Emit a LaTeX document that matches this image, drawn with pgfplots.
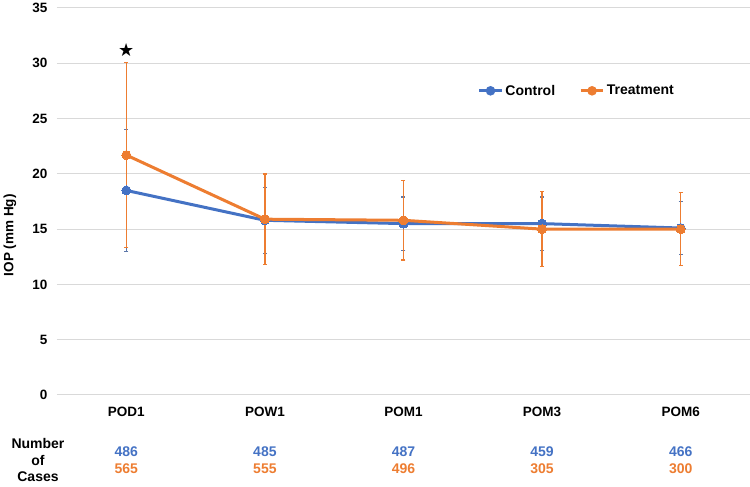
\documentclass[border=0pt]{standalone}
\usepackage{pgfplots}
\pgfplotsset{compat=1.18}
\usepackage{pgfplotstable}
\usepackage{fontspec}
\setmainfont{Liberation Sans}
\newfontfamily\symfont{DejaVu Sans}
\definecolor{cblue}{HTML}{4472C4}
\definecolor{corange}{HTML}{ED7D31}
\definecolor{gridc}{HTML}{D9D9D9}
\pgfplotstableread{
x y e
0 18.5 5.5
1 15.8 3.0
2 15.5 2.4
3 15.5 2.4
4 15.1 2.4
}\control
\pgfplotstableread{
x y e
0 21.7 8.35
1 15.9 4.1
2 15.8 3.6
3 15.0 3.4
4 15.0 3.3
}\treat
\begin{document}
\begin{tikzpicture}
\path[use as bounding box] (-57pt,-92pt) rectangle (693pt,395pt);
\begin{axis}[
  at={(0pt,0pt)}, anchor=south west,
  scale only axis, width=693pt, height=387pt,
  xmin=-0.5, xmax=4.5, ymin=0, ymax=35,
  ytick={0,5,...,35},
  xtick={0,1,2,3,4},
  xticklabels={POD1,POW1,POM1,POM3,POM6},
  axis line style={draw=none},
  major tick length=0pt,
  ymajorgrids, grid style={gridc, line width=1pt},
  /pgf/number format/assume math mode=true,
  tick label style={font=\fontsize{13.5}{16}\selectfont\bfseries},
  yticklabel style={xshift=-6pt},
  xticklabel style={yshift=-9pt},
  ylabel={IOP (mm Hg)},
  every axis y label/.style={at={(axis description cs:-0.068,0.413)}, rotate=90, anchor=center,
    font=\fontsize{13.5}{16}\selectfont\bfseries},
  clip=false,
  legend style={draw=none, fill=none, at={(axis description cs:0.75,0.786)}, anchor=center,
    font=\fontsize{14}{16}\selectfont\bfseries, legend columns=2,
    /tikz/every even column/.append style={column sep=22pt}},
  legend image code/.code={
    \draw[#1, mark=none] (0cm,0cm) -- (0.8cm,0cm);
    \fill[#1] (0.4cm,0cm) circle (3.2pt);
  },
]
% error bars first
\addplot[draw=none, mark=none, forget plot,
  error bars/.cd, y dir=both, y explicit,
  error bar style={cblue!60!gray, line width=1.2pt}, error mark options={rotate=90, mark size=2pt, line width=1.2pt, cblue!60!gray}]
  table[x=x, y=y, y error=e] {\control};
\addplot[draw=none, mark=none, forget plot,
  error bars/.cd, y dir=both, y explicit,
  error bar style={corange, line width=1.5pt}, error mark options={rotate=90, mark size=2pt, line width=1.5pt, corange}]
  table[x=x, y=y, y error=e] {\treat};
\addplot[cblue, line width=3pt, mark=*, mark size=4.5pt, mark options={solid, line width=0pt}]
  table[x=x, y=y] {\control};
\addlegendentry{Control}
\addplot[corange, line width=3pt, mark=*, mark size=4.5pt, mark options={solid, line width=0pt}]
  table[x=x, y=y] {\treat};
\addlegendentry{Treatment}
\node at (axis cs:0,31.2) {\symfont\fontsize{18}{18}\selectfont ★};
\begin{scope}[font=\fontsize{14}{16}\selectfont\bfseries]
\node[cblue] at (axis cs:0,-5.15) {486};
\node[cblue] at (axis cs:1,-5.15) {485};
\node[cblue] at (axis cs:2,-5.15) {487};
\node[cblue] at (axis cs:3,-5.15) {459};
\node[cblue] at (axis cs:4,-5.15) {466};
\node[corange] at (axis cs:0,-6.65) {565};
\node[corange] at (axis cs:1,-6.65) {555};
\node[corange] at (axis cs:2,-6.65) {496};
\node[corange] at (axis cs:3,-6.65) {305};
\node[corange] at (axis cs:4,-6.65) {300};
\node[align=center, font=\fontsize{14}{16.5}\selectfont\bfseries] at (-19pt,-65pt) {Number\\of\\Cases};
\end{scope}
\end{axis}
\end{tikzpicture}
\end{document}
